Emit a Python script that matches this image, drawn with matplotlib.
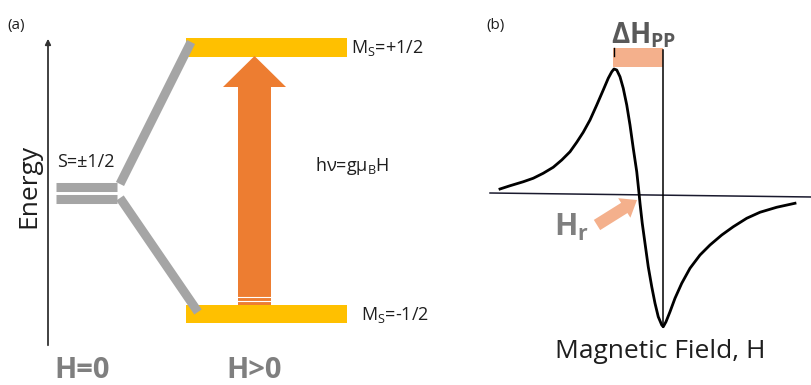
import matplotlib
matplotlib.use("Agg")
import matplotlib.pyplot as plt
from matplotlib.patches import Rectangle, FancyArrow

plt.rcParams['font.family'] = ['Open Sans', 'DejaVu Sans']
plt.rcParams['mathtext.fontset'] = 'custom'
plt.rcParams['mathtext.rm'] = 'Open Sans'
plt.rcParams['mathtext.bf'] = 'Open Sans:bold'
plt.rcParams['mathtext.it'] = 'Open Sans:italic'

# ---------------- data ----------------
# Panel (b): EPR first-derivative signal (field in units, signal arbitrary)
field = [-5.56, -5.16, -4.63, -4.23, -3.83, -3.43, -3.09, -2.76, -2.49, -2.23, -1.96,
         -1.69, -1.43, -1.23, -1.09, -1.00, -0.89, -0.76, -0.63, -0.49, -0.36, -0.23,
         -0.09, 0.0, 0.04, 0.13, 0.24, 0.37, 0.51, 0.64, 0.77, 0.91, 0.97, 1.08, 1.24,
         1.44, 1.71, 2.04, 2.44, 2.84, 3.31, 3.77, 4.31, 4.84, 5.51, 6.24]
signal = [0.032, 0.058, 0.090, 0.118, 0.158, 0.206, 0.264, 0.330, 0.406, 0.486, 0.584,
          0.704, 0.824, 0.918, 0.970, 0.992, 0.984, 0.930, 0.838, 0.704, 0.544, 0.358,
          0.170, 0.0, -0.082, -0.242, -0.402, -0.590, -0.750, -0.882, -0.990, -1.056,
          -1.070, -1.030, -0.950, -0.842, -0.722, -0.602, -0.496, -0.416, -0.336,
          -0.270, -0.202, -0.154, -0.114, -0.082]
baseline_field = [-5.96, 6.92]
baseline_signal = [0.0, -0.032]
peak_field = -1.04
trough_field = 0.96

# Panel (a): energy level diagram (pixel layout units)
zero_field_levels = [187, 199]
split_levels = {'upper': (38, 57), 'lower': (305, 323)}

GRAY = '#a5a5a5'
GOLD = '#ffc000'
ORANGE = '#ed7d31'
SALMON = '#f4b08c'
TXT_GRAY = '#7f7f7f'
TXT = '#1e1e1e'

fig = plt.figure(figsize=(8.12, 3.85), dpi=100)
axA = fig.add_axes([0, 0, 1, 1])
axA.set_xlim(0, 812)
axA.set_ylim(385, 0)
axA.axis('off')

axB = fig.add_axes([480 / 812, 0, 332 / 812, 1])
axB.set_xlim(-6.36, 6.92)
axB.set_ylim(-1.536, 1.544)
axB.axis('off')
axB.patch.set_alpha(0)

# ---------- panel (a) ----------
axA.annotate('', xy=(48, 36), xytext=(48, 348),
             arrowprops=dict(arrowstyle='-|>', lw=1.3, color='#333333', mutation_scale=8))

for (y0, y1) in split_levels.values():
    axA.add_patch(Rectangle((186, y0), 161, y1 - y0, color=GOLD, lw=0, zorder=2))

bw = 6.5
for y in zero_field_levels:
    axA.plot([56, 117], [y, y], color=GRAY, lw=bw, solid_capstyle='butt', zorder=3)
axA.plot([120, 191], [184, 42], color=GRAY, lw=bw, solid_capstyle='butt', zorder=3)
axA.plot([120, 198], [198, 312], color=GRAY, lw=bw, solid_capstyle='butt', zorder=3)

axA.add_patch(FancyArrow(254.5, 305, 0, -249, width=33, head_width=63, head_length=31,
                         length_includes_head=True, color=ORANGE, lw=0, zorder=3))
for y in [296.5, 300.5]:
    axA.plot([238, 271], [y, y], color='white', lw=0.8, zorder=4)

axA.text(7, 25, '(a)', fontsize=11, va='center', ha='left', color=TXT)
axA.text(486, 25, '(b)', fontsize=11, va='center', ha='left', color=TXT)
axA.text(57, 162, 'S=±1/2', fontsize=13, va='center', ha='left', color=TXT)
axA.text(351, 48, r'M$_\mathrm{S}$=+1/2', fontsize=13, va='center', ha='left', color=TXT)
axA.text(361, 315, r'M$_\mathrm{S}$=-1/2', fontsize=13, va='center', ha='left', color=TXT)
axA.text(315, 166, r'hν=gμ$_\mathrm{B}$H', fontsize=13, va='center', ha='left', color=TXT)
axA.text(29, 186, 'Energy', fontsize=19, rotation=90, va='center', ha='center', color=TXT)
axA.text(82, 370, 'H=0', fontsize=21, fontweight='bold', va='center', ha='center', color=TXT_GRAY)
axA.text(254, 370, 'H>0', fontsize=21, fontweight='bold', va='center', ha='center', color=TXT_GRAY)

# ---------- panel (b) ----------
axB.plot(baseline_field, baseline_signal, color='#1a1a2e', lw=1.1, zorder=2)
axB.plot([trough_field, trough_field], [1.144, -1.072], color='black', lw=1.1, zorder=2)
axB.plot(field, signal, color='black', lw=2.0, zorder=3, solid_joinstyle='round')
axB.add_patch(Rectangle((peak_field, 1.008), trough_field - peak_field, 0.152,
                        color=SALMON, lw=0, zorder=1))
axB.plot([peak_field + 0.04, peak_field + 0.04], [1.16, 1.10], color='black', lw=1.0, zorder=2)

axA.add_patch(FancyArrow(597, 225, 40, -25, width=12, head_width=23, head_length=15,
                         length_includes_head=True, color=SALMON, lw=0, zorder=5))
axA.text(554, 236, r'H$_\mathbf{r}$', fontsize=22, fontweight='bold', va='baseline',
         ha='left', color=TXT_GRAY)
axA.text(611, 43, r'ΔH$_\mathbf{PP}$', fontsize=20, fontweight='bold', va='baseline',
         ha='left', color='#595959')
axA.text(660, 351, 'Magnetic Field, H', fontsize=19, va='center', ha='center', color=TXT)

fig.savefig('out.png', dpi=100)
